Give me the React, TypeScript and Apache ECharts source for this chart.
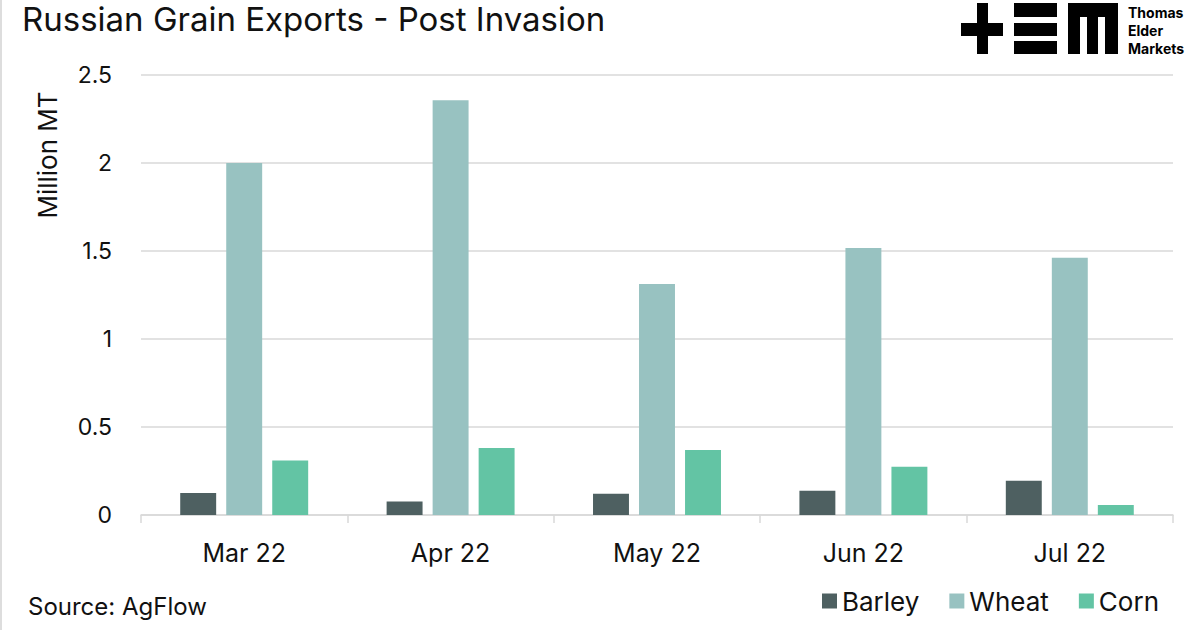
import React, { useEffect, useRef } from "react";
import * as echarts from "echarts";

const categories = ["Mar 22", "Apr 22", "May 22", "Jun 22", "Jul 22"];
const barley = [0.125, 0.076, 0.121, 0.138, 0.195];
const wheat = [2.0, 2.356, 1.312, 1.517, 1.462];
const corn = [0.309, 0.381, 0.369, 0.274, 0.057];
const yTicks = { min: 0, max: 2.5, interval: 0.5 };

const FONT = "Inter, 'Noto Sans', sans-serif";

export default function App() {
  const ref = useRef<HTMLDivElement>(null);
  useEffect(() => {
    if (!ref.current) return;
    const chart = echarts.init(ref.current, undefined, { renderer: "svg" });
    const barStyle = (color: string) => ({ color });
    chart.setOption({
      animation: false,
      backgroundColor: "#ffffff",
      textStyle: { fontFamily: FONT, color: "#111" },
      grid: { left: 141, right: 27, top: 75, bottom: 115, containLabel: false },
      legend: {
        right: 36,
        bottom: 11,
        itemWidth: 15,
        itemHeight: 15,
        itemGap: 30,
        icon: "rect",
        textStyle: { fontSize: 26, color: "#111", fontFamily: FONT },
        data: ["Barley", "Wheat", "Corn"],
      },
      xAxis: {
        type: "category",
        data: categories,
        axisLine: { lineStyle: { color: "#d9d9d9", width: 1.5 } },
        axisTick: { show: true, length: 8, lineStyle: { color: "#d9d9d9", width: 1.5 } },
        axisLabel: { fontSize: 25, color: "#111", margin: 25 },
      },
      yAxis: {
        type: "value",
        min: yTicks.min,
        max: yTicks.max,
        interval: yTicks.interval,
        axisLine: { show: false },
        axisTick: { show: false },
        splitLine: { lineStyle: { color: "#d9d9d9", width: 1.5 } },
        axisLabel: { fontSize: 23, color: "#111", margin: 29 },
      },
      series: [
        { name: "Barley", type: "bar", data: barley, itemStyle: barStyle("#4e6061"), barGap: "28%", barCategoryGap: "38%" },
        { name: "Wheat", type: "bar", data: wheat, itemStyle: barStyle("#98c2c1") },
        { name: "Corn", type: "bar", data: corn, itemStyle: barStyle("#63c4a4") },
      ],
      graphic: [
        { type: "rect", shape: { x: 0, y: 0, width: 2, height: 630 }, style: { fill: "#dddddd" } },
        {
          type: "text", left: 22, top: 2,
          style: { text: "Russian Grain Exports - Post Invasion", fontSize: 33, fontFamily: FONT, fill: "#111" },
        },
        {
          type: "text", x: 47, y: 155, rotation: Math.PI / 2,
          style: { text: "Million MT", fontSize: 26, fontFamily: FONT, fill: "#111", align: "center", verticalAlign: "middle" },
        },
        {
          type: "text", left: 28, top: 594,
          style: { text: "Source: AgFlow", fontSize: 24, fontFamily: FONT, fill: "#111" },
        },
        // logo
        { type: "rect", shape: { x: 977, y: 3, width: 11, height: 51 }, style: { fill: "#000" } },
        { type: "rect", shape: { x: 961, y: 23, width: 42, height: 13 }, style: { fill: "#000" } },
        { type: "rect", shape: { x: 1014, y: 3, width: 43, height: 14 }, style: { fill: "#000" } },
        { type: "rect", shape: { x: 1014, y: 23, width: 43, height: 13 }, style: { fill: "#000" } },
        { type: "rect", shape: { x: 1014, y: 41, width: 43, height: 13 }, style: { fill: "#000" } },
        { type: "rect", shape: { x: 1068, y: 3, width: 50, height: 14 }, style: { fill: "#000" } },
        { type: "rect", shape: { x: 1068, y: 3, width: 12, height: 51 }, style: { fill: "#000" } },
        { type: "rect", shape: { x: 1087, y: 3, width: 11, height: 51 }, style: { fill: "#000" } },
        { type: "rect", shape: { x: 1105, y: 3, width: 13, height: 51 }, style: { fill: "#000" } },
        {
          type: "text", x: 1128, y: 12,
          style: { text: "Thomas", fontSize: 14, fontWeight: "bold", fontFamily: FONT, fill: "#000", verticalAlign: "middle" },
        },
        {
          type: "text", x: 1128, y: 30,
          style: { text: "Elder", fontSize: 14, fontWeight: "bold", fontFamily: FONT, fill: "#000", verticalAlign: "middle" },
        },
        {
          type: "text", x: 1128, y: 48,
          style: { text: "Markets", fontSize: 14, fontWeight: "bold", fontFamily: FONT, fill: "#000", verticalAlign: "middle" },
        },
      ],
    });
    return () => chart.dispose();
  }, []);
  return (
    <div
      ref={ref}
      style={{ position: "fixed", left: 0, top: 0, width: 1200, height: 630 }}
    />
  );
}
